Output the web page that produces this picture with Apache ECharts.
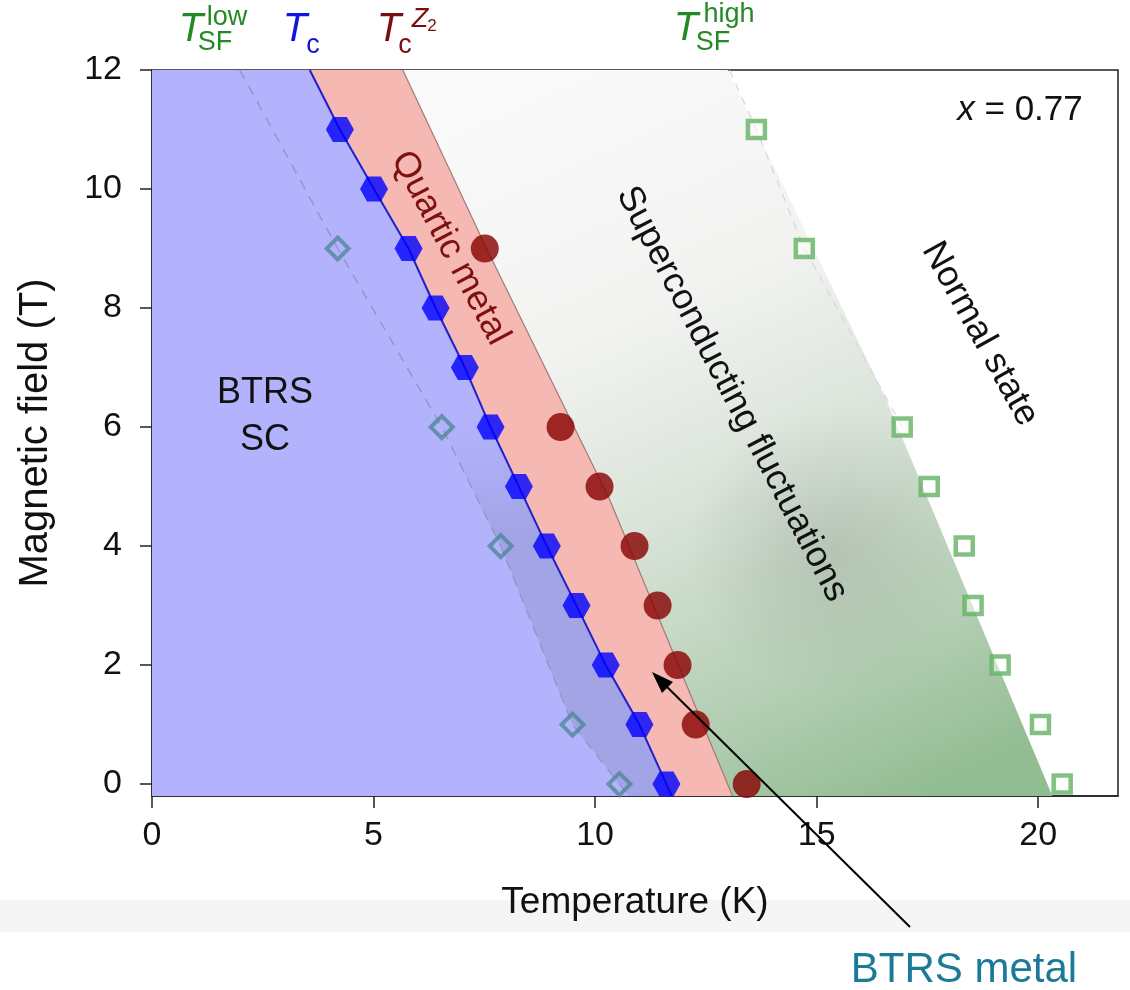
<!DOCTYPE html>
<html>
<head>
<meta charset="utf-8">
<script src="https://cdn.jsdelivr.net/npm/echarts@6/dist/echarts.min.js"></script>
<style>
html,body{margin:0;padding:0;background:#fff;}
#chart{width:1130px;height:990px;}
</style>
</head>
<body>
<div id="chart"></div>
<script>
// ---- data ----
// T_c (blue hexagons): field (T) and temperature (K)
const tcB = [11, 10, 9, 8, 7, 6, 5, 4, 3, 2, 1, 0];
const tcT = [4.24, 5.01, 5.79, 6.40, 7.06, 7.64, 8.28, 8.91, 9.58, 10.24, 11.00, 11.61];
// T_c^Z2 (dark red circles)
const z2B = [9, 6, 5, 4, 3, 2, 1, 0];
const z2T = [7.51, 9.22, 10.10, 10.89, 11.41, 11.86, 12.27, 13.42];
// T_SF^low (open diamonds)
const lowB = [9, 6, 4, 1, 0];
const lowT = [4.19, 6.54, 7.87, 9.49, 10.55];
// T_SF^high (open squares)
const highB = [11, 9, 6, 5, 4, 3, 2, 1, 0];
const highT = [13.64, 14.72, 16.93, 17.54, 18.33, 18.53, 19.14, 20.05, 20.54];

// phase boundaries [T, B]
const tcBoundary = [[3.56, 12], [4.24, 11], [5.01, 10], [5.79, 9], [6.40, 8], [7.06, 7], [7.64, 6], [8.28, 5], [8.91, 4], [9.58, 3], [10.24, 2], [11.00, 1], [11.61, 0], [11.73, -0.2]];
const lowBoundary = [[1.98, 12], [4.19, 9], [6.54, 6], [7.87, 4], [9.49, 1], [10.55, 0], [10.75, -0.2]];
const z2Boundary = [[5.66, 12], [7.55, 9], [10.33, 4.78], [13.1, -0.2]];
const highBoundary = [[12.99, 12], [16.57, 6.46], [20.32, -0.2]];
const highDashed = [[13.03, 12], [13.64, 11], [14.72, 9], [16.93, 6]];

// axes
const xMin = 0, xMax = 21.8, yMin = -0.2, yMax = 12;
const xTicks = [0, 5, 10, 15, 20];
const yTicks = [0, 2, 4, 6, 8, 10, 12];

const FONT = '"Liberation Sans", Arial, Helvetica, sans-serif';
const chart = echarts.init(document.getElementById('chart'), null, {renderer: 'canvas'});

function pts(api, arr) { return arr.map(p => api.coord(p)); }

function renderRegions(params, api) {
  const blue = pts(api, tcBoundary).concat(pts(api, [[xMin, yMin], [xMin, yMax]]));
  const band = pts(api, lowBoundary).concat(pts(api, tcBoundary.slice().reverse()));
  const pink = pts(api, tcBoundary).concat(pts(api, z2Boundary.slice().reverse()));
  const green = pts(api, z2Boundary).concat(pts(api, highBoundary.slice().reverse()));
  return {
    type: 'group',
    children: [
      {type: 'polygon', shape: {points: blue}, style: {fill: '#b3b3fd', stroke: null}},
      {type: 'polygon', shape: {points: band}, style: {
        fill: new echarts.graphic.LinearGradient(0, 0, 0, 1, [
          {offset: 0, color: 'rgba(162,164,230,0)'},
          {offset: 0.48, color: 'rgba(162,164,230,0)'},
          {offset: 0.64, color: 'rgba(162,164,230,1)'},
          {offset: 1, color: 'rgba(162,164,230,1)'}
        ]), stroke: null}},
      {type: 'polygon', shape: {points: pink}, style: {fill: '#f5b8b3', stroke: null}},
      {type: 'polygon', shape: {points: green}, style: {
        fill: new echarts.graphic.LinearGradient(0.3, 0, 0.8, 1, [
          {offset: 0, color: '#f9f9f9'},
          {offset: 0.3, color: '#f2f3f1'},
          {offset: 0.55, color: '#d9e3d9'},
          {offset: 0.8, color: '#b5cfb5'},
          {offset: 1, color: '#92bc92'}
        ]), stroke: null}},
      {type: 'polygon', shape: {points: green}, style: {
        fill: new echarts.graphic.RadialGradient(0.66, 0.66, 0.22, [
          {offset: 0, color: 'rgba(115,120,115,0.22)'},
          {offset: 1, color: 'rgba(115,120,115,0)'}
        ]), stroke: null}},
      {type: 'polyline', shape: {points: pts(api, z2Boundary)}, style: {stroke: '#a27a78', lineWidth: 1.2, fill: null}}
    ]
  };
}

const hexPath = 'path://M-1,0 L-0.5,-0.866 L0.5,-0.866 L1,0 L0.5,0.866 L-0.5,0.866 Z';
const rot = d => -d * Math.PI / 180;
function txt(x, y, text, size, fill, extra) {
  return Object.assign({type: 'text', x: x, y: y, z: 10,
    style: {text: text, font: size, fill: fill, align: 'center', verticalAlign: 'middle'}}, extra || {});
}

const option = {
  animation: false,
  backgroundColor: '#ffffff',
  grid: {left: 152, top: 70, right: 12, bottom: 194, show: true, borderColor: '#222', borderWidth: 1.5, backgroundColor: 'transparent'},
  xAxis: {
    type: 'value', min: xMin, max: xMax,
    name: 'Temperature (K)', nameLocation: 'middle', nameGap: 88,
    nameTextStyle: {fontSize: 37, color: '#111', fontFamily: FONT},
    axisLine: {show: true, onZero: false, lineStyle: {color: '#222', width: 1.5}},
    axisTick: {show: true, inside: false, length: 12, customValues: xTicks, lineStyle: {color: '#222', width: 1.5}},
    axisLabel: {fontSize: 34, color: '#111', fontFamily: FONT, margin: 23, customValues: xTicks},
    splitLine: {show: false}
  },
  yAxis: {
    type: 'value', min: yMin, max: yMax,
    name: 'Magnetic field (T)', nameLocation: 'middle', nameGap: 96, nameRotate: 90,
    nameTextStyle: {fontSize: 40, color: '#111', fontFamily: FONT},
    axisLine: {show: true, onZero: false, lineStyle: {color: '#1c1c44', width: 1.5}},
    axisTick: {show: true, inside: false, length: 12, customValues: yTicks, lineStyle: {color: '#222', width: 1.5}},
    axisLabel: {fontSize: 34, color: '#111', fontFamily: FONT, margin: 30, customValues: yTicks},
    splitLine: {show: false}
  },
  series: [
    {type: 'custom', renderItem: renderRegions, data: [0], clip: true, silent: true, z: 1},
    {type: 'line', data: lowBoundary, showSymbol: false, symbol: 'none', z: 2,
      lineStyle: {color: '#9496cc', width: 1.5, type: [10, 8]}},
    {type: 'line', data: highDashed, showSymbol: false, symbol: 'none', z: 2,
      lineStyle: {color: '#d6d6d6', width: 1.2, type: [8, 7]}},
    {type: 'line', data: tcBoundary, showSymbol: false, symbol: 'none', z: 3,
      lineStyle: {color: '#1f1fd0', width: 2}},
    {type: 'scatter', data: lowT.map((t, i) => [t, lowB[i]]), symbol: 'diamond', symbolSize: [22, 22], z: 4,
      itemStyle: {color: 'rgba(0,0,0,0)', borderColor: '#4f8797', borderWidth: 4}},
    {type: 'scatter', data: highT.map((t, i) => [t, highB[i]]), symbol: 'rect', symbolSize: [17, 17], z: 4,
      itemStyle: {color: 'rgba(255,255,255,0.6)', borderColor: '#64b264', borderWidth: 4.5}},
    {type: 'scatter', data: tcT.map((t, i) => [t, tcB[i]]), symbol: hexPath, symbolSize: [28, 25], z: 5,
      itemStyle: {color: '#0000ff'}},
    {type: 'scatter', data: z2T.map((t, i) => [t, z2B[i]]), symbol: 'circle', symbolSize: 28, z: 5,
      itemStyle: {color: '#870000'}}
  ],
  graphic: [
    {type: 'rect', z: -10, shape: {x: 0, y: 900, width: 1130, height: 32}, style: {fill: '#f5f5f5'}},
    // top labels
    txt(191, 30, 'T', 'italic 40px ' + FONT, '#238a23'),
    txt(227, 18, 'low', '27px ' + FONT, '#238a23'),
    txt(215, 43, 'SF', '27px ' + FONT, '#238a23'),
    txt(295, 30, 'T', 'italic 40px ' + FONT, '#1414e0'),
    txt(313, 46, 'c', '27px ' + FONT, '#1414e0'),
    txt(389, 30, 'T', 'italic 40px ' + FONT, '#7a0e0e'),
    txt(405, 46, 'c', '27px ' + FONT, '#7a0e0e'),
    txt(420, 19, 'Z', 'italic 27px ' + FONT, '#7a0e0e'),
    txt(432, 26, '2', '17px ' + FONT, '#7a0e0e'),
    txt(686, 29, 'T', 'italic 40px ' + FONT, '#238a23'),
    txt(729, 15, 'high', '27px ' + FONT, '#238a23'),
    txt(713, 43, 'SF', '27px ' + FONT, '#238a23'),
    // in-plot labels
    {type: 'text', x: 1020, y: 110, z: 10, style: {text: '{i|x} = 0.77', font: '35px ' + FONT, fill: '#111', align: 'center', verticalAlign: 'middle',
      rich: {i: {font: 'italic 35px ' + FONT, fill: '#111'}}}},
    txt(265, 393, 'BTRS', '36px ' + FONT, '#111'),
    txt(265, 440, 'SC', '36px ' + FONT, '#111'),
    txt(450, 248, 'Quartic metal', '36px ' + FONT, '#7e1010', {rotation: rot(62)}),
    txt(732, 394, 'Superconducting fluctuations', '36px ' + FONT, '#111', {rotation: rot(62.5)}),
    txt(980, 334, 'Normal state', '36px ' + FONT, '#111', {rotation: rot(61)}),
    // annotation
    {type: 'line', z: 20, shape: {x1: 910, y1: 927, x2: 660, y2: 680}, style: {stroke: '#000', lineWidth: 2}},
    {type: 'polygon', z: 20, shape: {points: [[652, 672], [673, 682], [662, 693]]}, style: {fill: '#000'}},
    txt(964, 970, 'BTRS metal', '42px ' + FONT, '#1a7a98', {z: 20})
  ]
};
chart.setOption(option);
</script>
</body>
</html>
